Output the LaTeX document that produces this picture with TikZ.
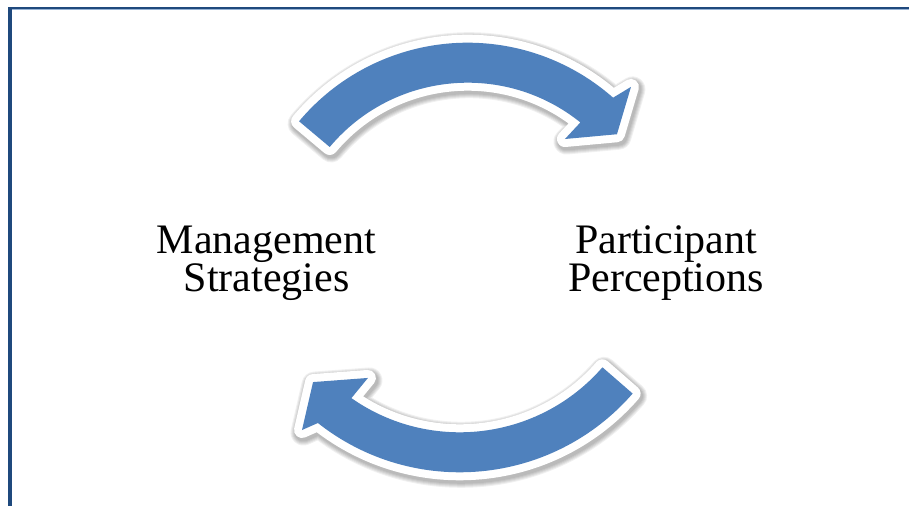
\documentclass[tikz,border=0pt]{standalone}
\usepackage{fontspec}
\setmainfont{Liberation Serif}
\definecolor{frameblue}{RGB}{31,73,125}
\definecolor{framelight}{RGB}{150,178,212}
\definecolor{arrowblue}{RGB}{79,129,189}
\begin{document}
\begin{tikzpicture}[x=1pt,y=1pt,
  cyclelabel/.style={align=center,inner sep=0pt,font=\fontsize{42}{38}\selectfont},
  % upper arc arrow, clockwise from left to right
  upperarrow/.style={shift={(467.6,243.3)},
    insert path={(140:220) arc[start angle=140,end angle=48.6,radius=220]
      -- (47.1:240) -- (40.7:197) -- (51.8:157.4) -- (51.2:180)
      arc[start angle=51.2,end angle=140,radius=180] -- cycle}},
  % lower arc arrow, clockwise from right to left
  lowerarrow/.style={shift={(459.8,262.7)},
    insert path={(-41:229) arc[start angle=-41,end angle=-128.3,radius=229]
      -- (-130.2:244.5) -- (-136.6:202) -- (-124.3:163) -- (-125:189)
      arc[start angle=-125,end angle=-41,radius=189] -- cycle}},
  softshadow/.style={draw=black,line width=#1,line join=round,draw opacity=0.06},
  whiteedge/.style={draw=white,line width=16,line join=round,fill=arrowblue},
  arrowbody/.style={fill=arrowblue}
]
\useasboundingbox (0,0) rectangle (909,506);
\fill[white] (0,0) rectangle (909,506);

% frame along the top and left edges
\fill[frameblue] (8,0) rectangle (12,499.3);
\fill[frameblue] (8,497) rectangle (909,499.3);
\fill[framelight] (12,496) rectangle (909,497);

% soft drop shadows
\foreach \w in {18,20,22,24,26}{
  \path[softshadow=\w,xshift=1.5,yshift=-2.5,upperarrow];
  \path[softshadow=\w,xshift=1.5,yshift=-2.5,lowerarrow];
}

% arrows with white rims
\path[whiteedge,upperarrow];
\path[arrowbody,upperarrow];
\path[whiteedge,lowerarrow];
\path[arrowbody,lowerarrow];

% labels
\node[cyclelabel] (mgmt) at (266.5,243) {Management\\Strategies};
\node[cyclelabel] (part) at (666,243) {Participant\\Perceptions};
\end{tikzpicture}
\end{document}
